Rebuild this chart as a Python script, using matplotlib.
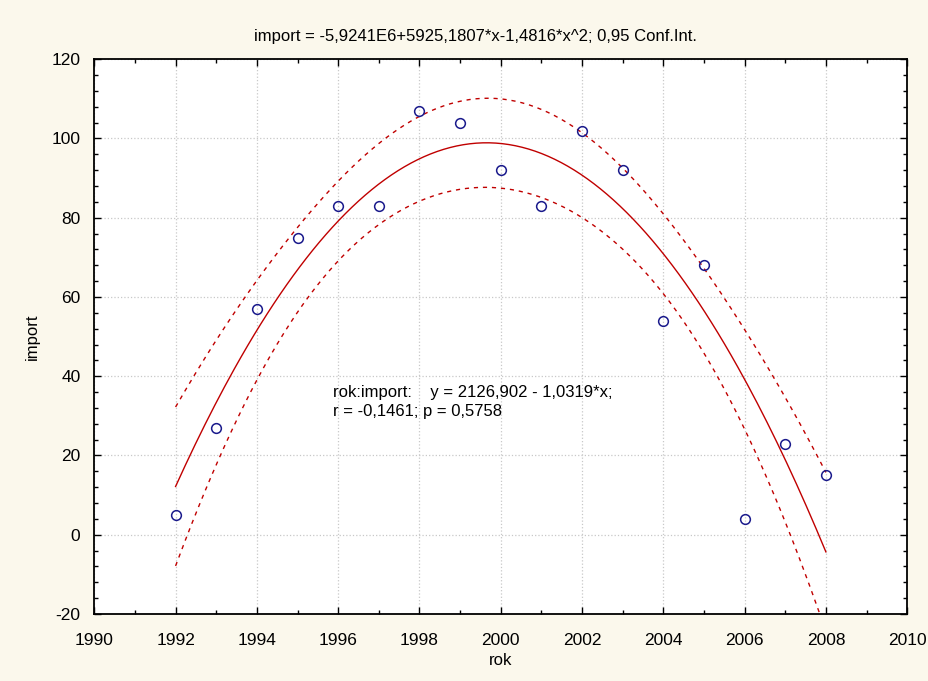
import matplotlib
matplotlib.use("Agg")
import matplotlib.pyplot as plt
import numpy as np
from matplotlib.ticker import MultipleLocator

plt.rcParams['font.family'] = ['Liberation Sans', 'DejaVu Sans']
plt.rcParams['axes.unicode_minus'] = False

# data
rok = [1992, 1993, 1994, 1995, 1996, 1997, 1998, 1999, 2000,
       2001, 2002, 2003, 2004, 2005, 2006, 2007, 2008]
imp = [5, 27, 57, 75, 83, 83, 107, 104, 92,
       83, 102, 92, 54, 68, 4, 23, 15]

title = "import = -5,9241E6+5925,1807*x-1,4816*x^2; 0,95 Conf.Int."
info = "rok:import:    y = 2126,902 - 1,0319*x;\nr = -0,1461; p = 0,5758"
t_crit = 2.1448  # t(0.975, 14)

x = np.array(rok, dtype=float)
y = np.array(imp, dtype=float)

# kwadratowa regresja (wycentrowane x dla stabilnosci)
xm = x.mean()
X = np.column_stack([np.ones_like(x), x - xm, (x - xm)**2])
beta, res, rank, sv = np.linalg.lstsq(X, y, rcond=None)
n = len(x)
s2 = np.sum((y - X @ beta)**2) / (n - 3)
XtXi = np.linalg.inv(X.T @ X)

xs = np.linspace(x.min(), x.max(), 200)
Xs = np.column_stack([np.ones_like(xs), xs - xm, (xs - xm)**2])
fit = Xs @ beta
se = np.sqrt(s2 * np.einsum('ij,jk,ik->i', Xs, XtXi, Xs))
lo = fit - t_crit * se
hi = fit + t_crit * se

fig = plt.figure(figsize=(9.29, 6.81), dpi=100)
fig.patch.set_facecolor('#fbf8ec')
ax = fig.add_axes([0.1015, 0.0985, 0.875, 0.8145])
ax.set_facecolor('white')

ax.plot(xs, fit, color='#c00000', lw=1.0)
ax.plot(xs, lo, color='#c00000', lw=1.0, ls=(0, (3, 3.5)))
ax.plot(xs, hi, color='#c00000', lw=1.0, ls=(0, (3, 3.5)))
ax.plot(x, y, 'o', ms=7, mfc='none', mec='#1a1a8c', mew=1.1)

ax.set_xlim(1990, 2010)
ax.set_ylim(-20, 120)
ax.xaxis.set_major_locator(MultipleLocator(2))
ax.xaxis.set_minor_locator(MultipleLocator(1))
ax.yaxis.set_major_locator(MultipleLocator(20))
ax.yaxis.set_minor_locator(MultipleLocator(4))
ax.tick_params(which='both', direction='in', top=True, right=True,
               labelsize=12.5, colors='black')
ax.tick_params(which='major', length=5, width=1)
ax.tick_params(which='minor', length=3, width=1)
ax.tick_params(axis='x', which='major', pad=14)
ax.tick_params(axis='y', which='major', pad=10)
ax.grid(True, which='major', color='#c8c8c8', ls=':', lw=0.9)
for sp in ax.spines.values():
    sp.set_linewidth(1.3)

ax.set_xlabel("rok", fontsize=12, labelpad=3)
ax.set_ylabel("import", fontsize=12, labelpad=8)
fig.text(475/929, 1 - 37/681, title, ha='center', va='center', fontsize=12)
ax.text(1995.87, 33.5, info, fontsize=12, va='center', linespacing=1.35)

fig.savefig("out.png", dpi=100, facecolor=fig.get_facecolor())
